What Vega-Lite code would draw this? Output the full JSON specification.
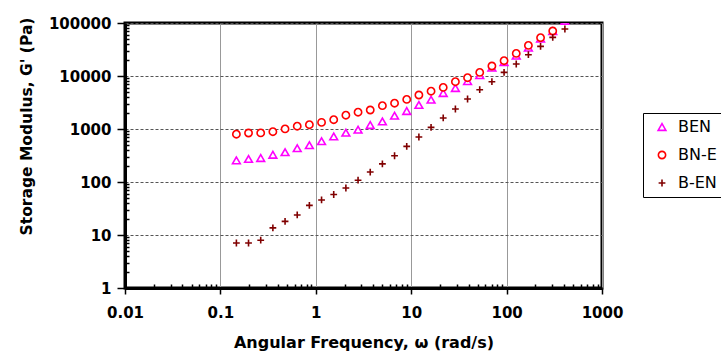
{
  "$schema": "https://vega.github.io/schema/vega-lite/v6.json",
  "autosize": {"type": "none"},
  "padding": {"left": 125, "top": 23, "right": 119, "bottom": 68},
  "width": 477,
  "height": 265,
  "background": "white",
  "config": {
    "view": {"stroke": "black", "strokeWidth": 3},
    "font": "DejaVu Sans"
  },
  "data": {
    "values": [
      {"series": "BEN", "w": 0.1471, "g": 256},
      {"series": "BEN", "w": 0.1972, "g": 272},
      {"series": "BEN", "w": 0.2646, "g": 284},
      {"series": "BEN", "w": 0.3549, "g": 327},
      {"series": "BEN", "w": 0.4762, "g": 365},
      {"series": "BEN", "w": 0.6387, "g": 434},
      {"series": "BEN", "w": 0.8564, "g": 495},
      {"series": "BEN", "w": 1.149, "g": 589},
      {"series": "BEN", "w": 1.541, "g": 725},
      {"series": "BEN", "w": 2.067, "g": 851},
      {"series": "BEN", "w": 2.773, "g": 970},
      {"series": "BEN", "w": 3.72, "g": 1189},
      {"series": "BEN", "w": 4.989, "g": 1390},
      {"series": "BEN", "w": 6.692, "g": 1782},
      {"series": "BEN", "w": 8.976, "g": 2187},
      {"series": "BEN", "w": 12.04, "g": 2851},
      {"series": "BEN", "w": 16.15, "g": 3573},
      {"series": "BEN", "w": 21.66, "g": 4777},
      {"series": "BEN", "w": 29.06, "g": 5943},
      {"series": "BEN", "w": 38.97, "g": 7980},
      {"series": "BEN", "w": 52.27, "g": 10360},
      {"series": "BEN", "w": 70.14, "g": 14350},
      {"series": "BEN", "w": 94.07, "g": 18200},
      {"series": "BEN", "w": 126.2, "g": 24150},
      {"series": "BEN", "w": 169.2, "g": 34200},
      {"series": "BEN", "w": 227.0, "g": 50570},
      {"series": "BEN", "w": 304.5, "g": 70000},
      {"series": "BEN", "w": 408.4, "g": 110000},
      {"series": "BN-E", "w": 0.1471, "g": 798},
      {"series": "BN-E", "w": 0.1972, "g": 841},
      {"series": "BN-E", "w": 0.2646, "g": 844},
      {"series": "BN-E", "w": 0.3549, "g": 889},
      {"series": "BN-E", "w": 0.4762, "g": 1005},
      {"series": "BN-E", "w": 0.6387, "g": 1130},
      {"series": "BN-E", "w": 0.8564, "g": 1206},
      {"series": "BN-E", "w": 1.149, "g": 1333},
      {"series": "BN-E", "w": 1.541, "g": 1497},
      {"series": "BN-E", "w": 2.067, "g": 1821},
      {"series": "BN-E", "w": 2.773, "g": 2075},
      {"series": "BN-E", "w": 3.72, "g": 2282},
      {"series": "BN-E", "w": 4.989, "g": 2754},
      {"series": "BN-E", "w": 6.692, "g": 3069},
      {"series": "BN-E", "w": 8.976, "g": 3616},
      {"series": "BN-E", "w": 12.04, "g": 4382},
      {"series": "BN-E", "w": 16.15, "g": 5166},
      {"series": "BN-E", "w": 21.66, "g": 6096},
      {"series": "BN-E", "w": 29.06, "g": 7803},
      {"series": "BN-E", "w": 38.97, "g": 9283},
      {"series": "BN-E", "w": 52.27, "g": 11700},
      {"series": "BN-E", "w": 70.14, "g": 15450},
      {"series": "BN-E", "w": 94.07, "g": 19450},
      {"series": "BN-E", "w": 126.2, "g": 26690},
      {"series": "BN-E", "w": 169.2, "g": 37760},
      {"series": "BN-E", "w": 227.0, "g": 52810},
      {"series": "BN-E", "w": 304.5, "g": 70630},
      {"series": "BN-E", "w": 408.4, "g": 125000},
      {"series": "B-EN", "w": 0.1471, "g": 7.06},
      {"series": "B-EN", "w": 0.1972, "g": 7.06},
      {"series": "B-EN", "w": 0.2646, "g": 7.98},
      {"series": "B-EN", "w": 0.3549, "g": 13.6},
      {"series": "B-EN", "w": 0.4762, "g": 18.1},
      {"series": "B-EN", "w": 0.6387, "g": 23.9},
      {"series": "B-EN", "w": 0.8564, "g": 36.2},
      {"series": "B-EN", "w": 1.149, "g": 45.8},
      {"series": "B-EN", "w": 1.541, "g": 58.1},
      {"series": "B-EN", "w": 2.067, "g": 77.1},
      {"series": "B-EN", "w": 2.773, "g": 108},
      {"series": "B-EN", "w": 3.72, "g": 154},
      {"series": "B-EN", "w": 4.989, "g": 220},
      {"series": "B-EN", "w": 6.692, "g": 313},
      {"series": "B-EN", "w": 8.976, "g": 470},
      {"series": "B-EN", "w": 12.04, "g": 706},
      {"series": "B-EN", "w": 16.15, "g": 1072},
      {"series": "B-EN", "w": 21.66, "g": 1614},
      {"series": "B-EN", "w": 29.06, "g": 2384},
      {"series": "B-EN", "w": 38.97, "g": 3681},
      {"series": "B-EN", "w": 52.27, "g": 5520},
      {"series": "B-EN", "w": 70.14, "g": 7803},
      {"series": "B-EN", "w": 94.07, "g": 11700},
      {"series": "B-EN", "w": 126.2, "g": 16840},
      {"series": "B-EN", "w": 169.2, "g": 25230},
      {"series": "B-EN", "w": 227.0, "g": 36160},
      {"series": "B-EN", "w": 304.5, "g": 53480},
      {"series": "B-EN", "w": 408.4, "g": 77090}
    ]
  },
  "resolve": {"axis": {"x": "independent", "y": "independent"}},
  "layer": [
    {
      "mark": {"type": "point", "opacity": 0, "clip": true},
      "encoding": {
        "x": {
          "field": "w", "type": "quantitative",
          "scale": {"type": "log", "domain": [0.01, 1000], "nice": false},
          "axis": {
            "orient": "bottom",
            "values": [0.02,0.03,0.04,0.05,0.06,0.07,0.08,0.09,0.2,0.3,0.4,0.5,0.6,0.7,0.8,0.9,2,3,4,5,6,7,8,9,20,30,40,50,60,70,80,90,200,300,400,500,600,700,800,900],
            "labels": false, "grid": false, "domain": false, "title": null,
            "tickColor": "black", "tickWidth": 1.5, "tickSize": -4
          }
        },
        "y": {
          "field": "g", "type": "quantitative",
          "scale": {"type": "log", "domain": [1, 100000], "nice": false},
          "axis": {
            "orient": "left",
            "values": [2,3,4,5,6,7,8,9,20,30,40,50,60,70,80,90,200,300,400,500,600,700,800,900,2000,3000,4000,5000,6000,7000,8000,9000,20000,30000,40000,50000,60000,70000,80000,90000],
            "labels": false, "grid": false, "domain": false, "title": null,
            "tickColor": "black", "tickWidth": 1.5, "tickSize": -4
          }
        }
      }
    },
    {
      "mark": {"type": "point", "filled": false, "fill": "white", "opacity": 1, "clip": true},
      "encoding": {
        "x": {
          "field": "w", "type": "quantitative",
          "scale": {"type": "log", "domain": [0.01, 1000], "nice": false},
          "axis": {
            "orient": "bottom",
            "values": [0.01, 0.1, 1, 10, 100, 1000],
            "format": "~g",
            "labelOverlap": false,
            "labelFlush": false,
            "labelFont": "DejaVu Sans", "labelFontWeight": "bold", "labelFontSize": 15, "labelColor": "black",
            "labelPadding": 11,
            "tickColor": "black", "tickWidth": 1.5, "tickSize": 6,
            "grid": true, "gridColor": "#999999", "gridWidth": 1,
            "domainColor": "black", "domainWidth": 3,
            "title": "Angular Frequency, ω (rad/s)",
            "titleFont": "DejaVu Sans", "titleFontWeight": "bold", "titleFontSize": 16, "titleColor": "black",
            "titlePadding": 14
          }
        },
        "y": {
          "field": "g", "type": "quantitative",
          "scale": {"type": "log", "domain": [1, 100000], "nice": false},
          "axis": {
            "orient": "left",
            "values": [1, 10, 100, 1000, 10000, 100000],
            "format": "~g",
            "labelOverlap": false,
            "labelFlush": false,
            "labelFont": "DejaVu Sans", "labelFontWeight": "bold", "labelFontSize": 15, "labelColor": "black",
            "labelPadding": 6,
            "tickColor": "black", "tickWidth": 1.5, "tickSize": 8,
            "grid": true, "gridColor": "#555555", "gridWidth": 1, "gridDash": [3, 2],
            "domainColor": "black", "domainWidth": 3,
            "title": "Storage Modulus, G' (Pa)",
            "titleFont": "DejaVu Sans", "titleFontWeight": "bold", "titleFontSize": 15.5, "titleColor": "black",
            "titlePadding": 14,
            "titleY": 103
          }
        },
        "color": {
          "field": "series", "type": "nominal",
          "scale": {"domain": ["BEN", "BN-E", "B-EN"], "range": ["#FF00FF", "#FF0000", "#800000"]},
          "legend": {
            "title": null,
            "orient": "none", "legendX": 518, "legendY": 90,
            "strokeColor": "black",
            "padding": 6, "rowPadding": 12,
            "symbolSize": 36, "symbolStrokeWidth": 1.5, "symbolOffset": 5, "symbolOpacity": 1,
            "labelFont": "DejaVu Sans", "labelFontSize": 16, "labelColor": "black", "labelOffset": 8
          }
        },
        "shape": {
          "field": "series", "type": "nominal",
          "scale": {"domain": ["BEN", "BN-E", "B-EN"], "range": ["triangle-up", "circle", "M-1,0L1,0M0,-1L0,1"]}
        },
        "size": {
          "field": "series", "type": "nominal",
          "scale": {"domain": ["BEN", "BN-E", "B-EN"], "range": [60, 46, 60]},
          "legend": null
        },
        "strokeWidth": {
          "field": "series", "type": "nominal",
          "scale": {"domain": ["BEN", "BN-E", "B-EN"], "range": [1.6, 1.6, 2]},
          "legend": null
        }
      }
    }
  ]
}
